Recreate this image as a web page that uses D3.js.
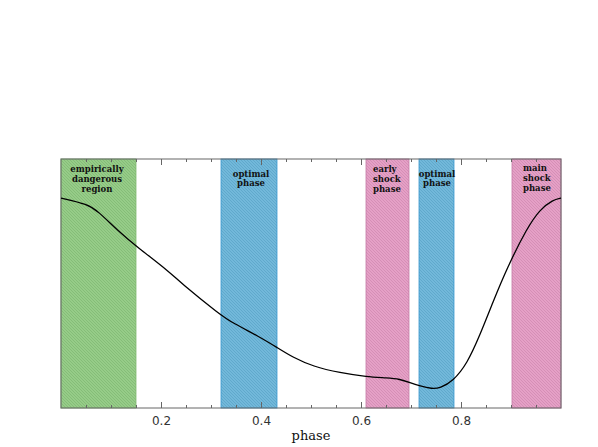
<!DOCTYPE html>
<html>
<head>
<meta charset="utf-8">
<script src="https://cdn.jsdelivr.net/npm/d3@7"></script>
<style>
  body { margin: 0; background: #fff; }
</style>
</head>
<body>
<script>
// curve (phase, relative level)
var phase = [0, 0.054, 0.074, 0.114, 0.152, 0.218, 0.238, 0.318, 0.344, 0.398, 0.432, 0.464,
             0.504, 0.558, 0.612, 0.652, 0.678, 0.698, 0.718, 0.742, 0.758, 0.784, 0.812,
             0.838, 0.864, 0.892, 0.932, 0.958, 0.984, 1.0];
var level = [0.843, 0.818, 0.790, 0.712, 0.647, 0.545, 0.505, 0.375, 0.341, 0.285, 0.243, 0.203,
             0.167, 0.141, 0.125, 0.121, 0.116, 0.102, 0.088, 0.077, 0.080, 0.108, 0.177,
             0.293, 0.426, 0.562, 0.723, 0.798, 0.836, 0.843];

// shaded bands
var bandStart = [0, 0.32, 0.61, 0.716, 0.902];
var bandEnd   = [0.15, 0.432, 0.696, 0.786, 1.0];
var bandKind  = ["green", "blue", "pink", "blue", "pink"];
var bandText  = [["empirically", "dangerous", "region"],
                 ["optimal", "phase"],
                 ["early", "shock", "phase"],
                 ["optimal", "phase"],
                 ["main", "shock", "phase"]];

var majorTicks = [0.2, 0.4, 0.6, 0.8];
var tickLabels = ["0.2", "0.4", "0.6", "0.8"];

var W = 598, H = 447;
var pLeft = 61, pRight = 561, pTop = 159, pBottom = 408;

var svg = d3.select("body").append("svg")
            .attr("width", W)
            .attr("height", H);

var x = d3.scaleLinear().domain([0, 1]).range([pLeft, pRight]);
var y = d3.scaleLinear().domain([0, 1]).range([pBottom, pTop]);

// hatch patterns
var colors = {
  green: {base: "#96cc88", line: "#80b973", edge: "#7fb872"},
  blue:  {base: "#72b8da", line: "#5ca4c9", edge: "#3a98d0"},
  pink:  {base: "#e5a0c6", line: "#d18ab3", edge: "#c47aa5"}
};
var defs = svg.append("defs");
Object.keys(colors).forEach(function(k) {
  var p = defs.append("pattern")
              .attr("id", "hatch-" + k)
              .attr("patternUnits", "userSpaceOnUse")
              .attr("width", 3)
              .attr("height", 3);
  p.append("rect").attr("width", 3).attr("height", 3).attr("fill", colors[k].base);
  p.append("path")
   .attr("d", "M0,0 L3,3 M-1,2 L1,4 M2,-1 L4,1")
   .attr("stroke", colors[k].line)
   .attr("stroke-width", 0.8);
});

// bands
var bands = bandStart.map(function(s, i) {
  return {s: s, e: bandEnd[i], kind: bandKind[i], text: bandText[i]};
});

svg.selectAll("rect.band")
   .data(bands)
   .enter()
   .append("rect")
   .attr("class", "band")
   .attr("x", function(d) { return x(d.s); })
   .attr("y", pTop)
   .attr("width", function(d) { return x(d.e) - x(d.s); })
   .attr("height", pBottom - pTop)
   .attr("fill", function(d) { return "url(#hatch-" + d.kind + ")"; })
   .attr("stroke", function(d) { return colors[d.kind].edge; })
   .attr("stroke-width", 0.8);

// band labels
var labelPos = [
  {cx: 97, anchor: "middle", y0: 172, dy: 10},
  {cx: 251, anchor: "middle", y0: 177, dy: 8.5},
  {cx: 373, anchor: "start", y0: 172, dy: 10},
  {cx: 437, anchor: "middle", y0: 177, dy: 8.5},
  {cx: 523, anchor: "start", y0: 171, dy: 10}
];
bands.forEach(function(b, i) {
  var lp = labelPos[i];
  svg.append("g").selectAll("text")
     .data(b.text)
     .enter()
     .append("text")
     .attr("x", lp.cx)
     .attr("y", function(d, j) { return lp.y0 + j * lp.dy; })
     .attr("text-anchor", lp.anchor)
     .attr("font-family", "DejaVu Serif, serif")
     .attr("font-weight", "bold")
     .attr("font-size", 8.5)
     .attr("fill", "#111")
     .text(function(d) { return d; });
});

// frame
svg.append("rect")
   .attr("x", pLeft)
   .attr("y", pTop)
   .attr("width", pRight - pLeft)
   .attr("height", pBottom - pTop)
   .attr("fill", "none")
   .attr("stroke", "#666")
   .attr("stroke-width", 1);

// ticks on bottom and top
var minor = d3.range(1, 20).map(function(i) { return i * 0.05; })
              .filter(function(v) { return Math.abs(v * 5 - Math.round(v * 5)) > 1e-6; });

var bottomAxis = d3.axisBottom(x).tickValues(majorTicks)
                   .tickSizeInner(-6).tickSizeOuter(0)
                   .tickFormat(function(d, i) { return tickLabels[i]; });
var gB = svg.append("g").attr("transform", "translate(0," + pBottom + ")").call(bottomAxis);
gB.select(".domain").remove();
gB.selectAll("line").attr("stroke", "#666");
gB.selectAll("text").attr("y", 8)
  .attr("font-family", "DejaVu Sans, sans-serif")
  .attr("font-size", 12).attr("fill", "#333");

var gBm = svg.append("g").attr("transform", "translate(0," + pBottom + ")")
             .call(d3.axisBottom(x).tickValues(minor).tickSizeInner(-3).tickSizeOuter(0).tickFormat(""));
gBm.select(".domain").remove();
gBm.selectAll("line").attr("stroke", "#666");

var gT = svg.append("g").attr("transform", "translate(0," + pTop + ")")
            .call(d3.axisTop(x).tickValues(majorTicks).tickSizeInner(-6).tickSizeOuter(0).tickFormat(""));
gT.select(".domain").remove();
gT.selectAll("line").attr("stroke", "#666");
var gTm = svg.append("g").attr("transform", "translate(0," + pTop + ")")
             .call(d3.axisTop(x).tickValues(minor).tickSizeInner(-3).tickSizeOuter(0).tickFormat(""));
gTm.select(".domain").remove();
gTm.selectAll("line").attr("stroke", "#666");

// curve
var pts = phase.map(function(p, i) { return [p, level[i]]; });
svg.append("path")
   .datum(pts)
   .attr("fill", "none")
   .attr("stroke", "#000")
   .attr("stroke-width", 1.3)
   .attr("d", d3.line()
                .x(function(d) { return x(d[0]); })
                .y(function(d) { return y(d[1]); })
                .curve(d3.curveBasis));

// x label
svg.append("text")
   .attr("x", 311)
   .attr("y", 440)
   .attr("text-anchor", "middle")
   .attr("font-family", "DejaVu Serif, serif")
   .attr("font-size", 13)
   .attr("fill", "#111")
   .text("phase");
</script>
</body>
</html>
